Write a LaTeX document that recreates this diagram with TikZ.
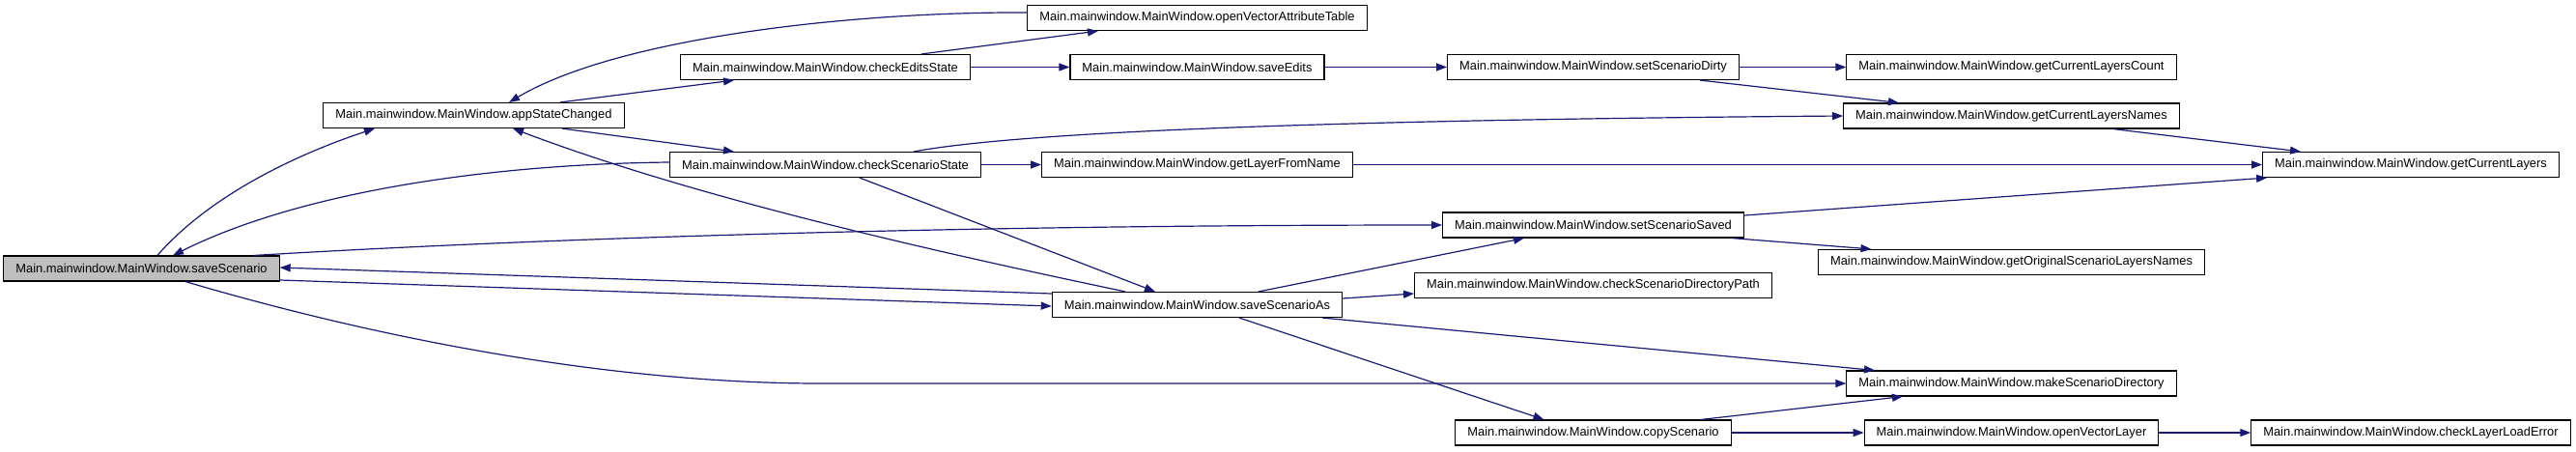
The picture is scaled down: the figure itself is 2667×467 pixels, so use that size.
\documentclass[tikz,border=0pt]{standalone}
\usepackage{fontspec}
\setmainfont{Liberation Sans}
\usetikzlibrary{arrows.meta}
\definecolor{EdgeBlue}{RGB}{25,25,112}
\definecolor{RootGray}{RGB}{191,191,191}
\tikzset{
  callbox/.style={draw=black,fill=white,line width=1.1pt,inner xsep=12.5pt,
    inner ysep=0pt,minimum height=26pt,font=\fontsize{12.9}{15}\selectfont},
  rootbox/.style={callbox,fill=RootGray},
  callarrow/.style={-{Triangle[length=11pt,width=8pt]},
    line width=1.2pt,draw=EdgeBlue},
}

\begin{document}
\begin{tikzpicture}[x=1pt,y=-1pt]
\useasboundingbox (0,0) rectangle (2667,467);
\node[rootbox] (saveScen) at (146.5,278) {Main.mainwindow.MainWindow.saveScenario};
\node[callbox] (appState) at (490.5,119.5) {Main.mainwindow.MainWindow.appStateChanged};
\node[callbox] (openAttr) at (1239.5,18.5) {Main.mainwindow.MainWindow.openVectorAttributeTable};
\node[callbox] (checkEdits) at (854.5,69.5) {Main.mainwindow.MainWindow.checkEditsState};
\node[callbox] (saveEdits) at (1239.5,69.5) {Main.mainwindow.MainWindow.saveEdits};
\node[callbox] (setDirty) at (1649.5,69.5) {Main.mainwindow.MainWindow.setScenarioDirty};
\node[callbox] (layersCount) at (2082.5,69.5) {Main.mainwindow.MainWindow.getCurrentLayersCount};
\node[callbox] (checkScen) at (854.5,170.5) {Main.mainwindow.MainWindow.checkScenarioState};
\node[callbox] (layerName) at (1239.5,170.5) {Main.mainwindow.MainWindow.getLayerFromName};
\node[callbox] (layersNames) at (2082.5,120) {Main.mainwindow.MainWindow.getCurrentLayersNames};
\node[callbox] (curLayers) at (2496,170.5) {Main.mainwindow.MainWindow.getCurrentLayers};
\node[callbox] (setSaved) at (1649.5,233) {Main.mainwindow.MainWindow.setScenarioSaved};
\node[callbox] (origNames) at (2082.5,271.5) {Main.mainwindow.MainWindow.getOriginalScenarioLayersNames};
\node[callbox] (saveAs) at (1239.5,315.5) {Main.mainwindow.MainWindow.saveScenarioAs};
\node[callbox] (checkDir) at (1649.5,295.5) {Main.mainwindow.MainWindow.checkScenarioDirectoryPath};
\node[callbox] (makeDir) at (2082.5,397) {Main.mainwindow.MainWindow.makeScenarioDirectory};
\node[callbox] (copyScen) at (1649.5,448) {Main.mainwindow.MainWindow.copyScenario};
\node[callbox] (openLayer) at (2082.5,448) {Main.mainwindow.MainWindow.openVectorLayer};
\node[callbox] (loadErr) at (2496,448) {Main.mainwindow.MainWindow.checkLayerLoadError};
% calls out of saveScenario
\draw[callarrow] ([xshift=16.5pt]saveScen.north) .. controls +(52,-60) and +(-85,28) .. ([xshift=-102.5pt]appState.south);
\draw[callarrow] ([xshift=116.5pt]saveScen.north) .. controls +(300,-18) and +(-500,0) .. (setSaved.west);
\draw[callarrow] ([yshift=-12pt]saveScen.east) -- ([yshift=-1.5pt]saveAs.west);
\draw[callarrow] ([xshift=45.5pt]saveScen.south) .. controls +(210,62) and +(-210,0) .. ([xshift=-1062pt]makeDir.west) -- (makeDir.west);
% appStateChanged and its callees
\draw[callarrow] ([yshift=5.5pt]openAttr.west) .. controls +(-180,-1) and +(113,-67) .. ([xshift=36.5pt]appState.north);
\draw[callarrow] ([xshift=89.5pt]appState.north) -- ([xshift=-94.5pt]checkEdits.south);
\draw[callarrow] ([xshift=91.5pt]appState.south) -- ([xshift=-94.5pt]checkScen.north);
\draw[callarrow] ([xshift=99.5pt]checkEdits.north) -- ([xshift=-102.5pt]openAttr.south);
\draw[callarrow] (checkEdits) -- (saveEdits);
\draw[callarrow] (saveEdits) -- (setDirty);
\draw[callarrow] (setDirty) -- (layersCount);
\draw[callarrow] ([xshift=110.5pt]setDirty.south) -- ([xshift=-116.5pt]layersNames.north);
% checkScenarioState
\draw[callarrow] ([yshift=2.5pt]checkScen.west) .. controls +(-190,2) and +(130,-65) .. ([xshift=32.5pt]saveScen.north);
\draw[callarrow] ([xshift=91.5pt]checkScen.north) .. controls +(120,-22) and +(-500,4) .. (layersNames.west);
\draw[callarrow] (checkScen) -- (layerName);
\draw[callarrow] ([xshift=35.5pt]checkScen.south) -- ([xshift=-43.5pt]saveAs.north);
\draw[callarrow] (layerName) -- (curLayers);
\draw[callarrow] ([xshift=105.5pt]layersNames.south) -- ([xshift=-114pt]curLayers.north);
\draw[callarrow] ([yshift=10pt]setSaved.east) -- ([xshift=5pt]curLayers.south west);
\draw[callarrow] ([xshift=143.5pt]setSaved.south) -- ([xshift=-145pt]origNames.north);
% saveScenarioAs
\draw[callarrow] ([xshift=-74.5pt]saveAs.north) .. controls +(-200,-42) and +(190,72) .. ([xshift=40.5pt]appState.south);
\draw[callarrow] ([yshift=11.5pt]saveAs.west) -- ([yshift=1pt]saveScen.east);
\draw[callarrow] ([xshift=63.5pt]saveAs.north) -- ([xshift=-71.5pt]setSaved.south);
\draw[callarrow] ([yshift=6.5pt]saveAs.east) -- ([yshift=-8.5pt]checkDir.west);
\draw[callarrow] ([xshift=129.5pt]saveAs.south) -- ([xshift=-141.5pt]makeDir.north);
\draw[callarrow] ([xshift=43.5pt]saveAs.south) -- ([xshift=-51pt]copyScen.north);
\draw[callarrow] ([xshift=111.5pt]copyScen.north) -- ([xshift=-112.5pt]makeDir.south);
\draw[callarrow] (copyScen) -- (openLayer);
\draw[callarrow] (openLayer) -- (loadErr);
\end{tikzpicture}
\end{document}
